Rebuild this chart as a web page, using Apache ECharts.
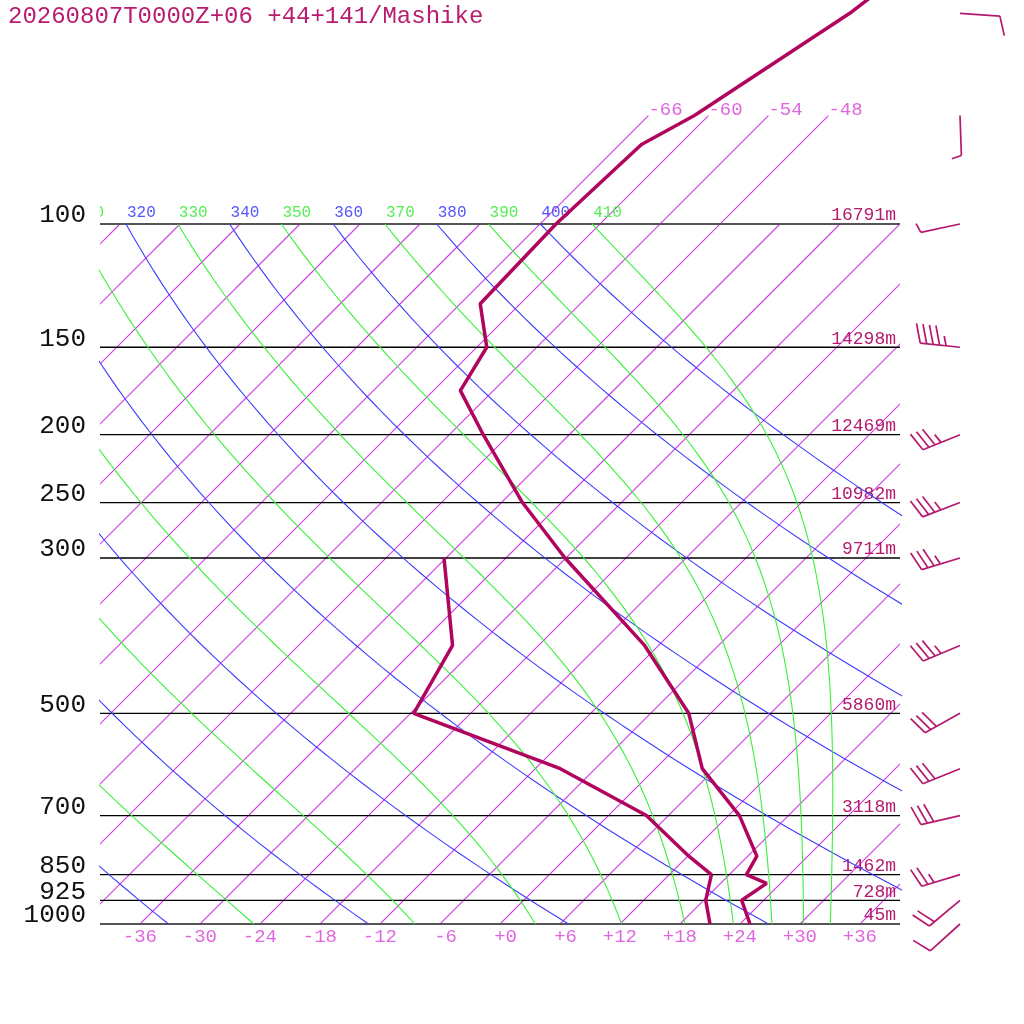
<!DOCTYPE html>
<html>
<head>
<meta charset="utf-8">
<script src="https://cdn.jsdelivr.net/npm/echarts@6/dist/echarts.min.js"></script>
<style>
  html, body { margin: 0; padding: 0; background: #fff; }
  #main { width: 1024px; height: 1024px; }
</style>
</head>
<body>
<div id="main"></div>
<script>
// sounding data
var titleText = '20260807T0000Z+06 +44+141/Mashike';

var levels = [100, 150, 200, 250, 300, 500, 700, 850, 925, 1000];
var heights = ['16791m', '14298m', '12469m', '10982m', '9711m', '5860m', '3118m', '1462m', '728m', '45m'];

var tempP = [1000, 925, 875, 850, 800, 700, 600, 500, 400, 300, 250, 200, 173, 150, 130, 100, 77, 70, 50, 40];
var tempT = [25.0, 21.8, 22.6, 19.7, 18.9, 13.1, 4.7, -2.2, -13.4, -30.1, -39.9, -50.6, -57.3, -59.0, -64.0, -64.4, -63.8, -61.4, -56.1, -54.0];

var dewP = [1000, 925, 850, 800, 700, 600, 500, 400, 300];
var dewT = [21.0, 18.2, 16.2, 12.1, 3.8, -9.5, -29.7, -32.6, -42.2];

var windP = [1000, 925, 850, 700, 600, 500, 400, 300, 250, 200, 150, 100, 70, 50];
var windDir = [228, 230, 253, 257, 248, 241, 247, 253, 249, 248, 276, 258, 178, 94];
var windKt = [10, 20, 25, 30, 30, 30, 35, 35, 35, 35, 45, 5, 5, 10];

// background lines
var isotherms = [-108, -102, -96, -90, -84, -78, -72, -66, -60, -54, -48, -42, -36, -30, -24, -18, -12, -6, 0, 6, 12, 18, 24, 30, 36];
var isoHigh = [-66, -60, -54, -48];
var xTicks = [-36, -30, -24, -18, -12, -6, 0, 6, 12, 18, 24, 30, 36];
var dryTheta = [240, 260, 280, 300, 320, 340, 360, 380, 400];
var moistTheta = [250, 270, 290, 310, 330, 350, 370, 390, 410];

var FONT = '"Liberation Mono", "DejaVu Sans Mono", monospace';
var KAPPA = 0.2857;
var PTOP = 1000 / Math.pow(10, 924 / 700);
var PINK = '#d23ce6';

function skewX(t, p) { return t + 70 * Math.log10(1000 / p); }

var pGrid = [];
for (var i = 0; i <= 60; i++) pGrid.push(1000 * Math.pow(10, -i / 60));

function dryLine(th) {
  return pGrid.map(function (p) {
    return [skewX(th * Math.pow(p / 1000, KAPPA) - 273.15, p), p];
  });
}

function moistRate(T, p) {
  var es = 6.112 * Math.exp(17.67 * (T - 273.15) / (T - 29.65));
  var rs = 0.622 * es / (p - es);
  var Rd = 287.04, cp = 1005.7, Lv = 2.501e6;
  return (Rd * T + Lv * rs) / (cp + Lv * Lv * rs * 0.622 / (Rd * T * T));
}

function moistLine(th) {
  var n = 90, lp = Math.log(100), h = (Math.log(1000) - lp) / n;
  var T = th * Math.pow(0.1, KAPPA);
  var out = [[skewX(T - 273.15, 100), 100]];
  var f = function (t, l) { return moistRate(t, Math.exp(l)); };
  for (var k = 0; k < n; k++) {
    var k1 = f(T, lp), k2 = f(T + h * k1 / 2, lp + h / 2);
    var k3 = f(T + h * k2 / 2, lp + h / 2), k4 = f(T + h * k3, lp + h);
    T += h * (k1 + 2 * k2 + 2 * k3 + k4) / 6;
    lp += h;
    var p = Math.exp(lp);
    out.push([skewX(T - 273.15, p), p]);
  }
  return out;
}

function lineSeries(data, color, width) {
  return {
    type: 'line', data: data, symbol: 'none', silent: true, clip: true,
    animation: false, lineStyle: { color: color, width: width },
    itemStyle: { color: color }
  };
}

var series = [];

// isotherms
series.push({
  type: 'custom', silent: true, clip: true, animation: false,
  data: isotherms.map(function (t) { return [t, 1000, isoHigh.indexOf(t) >= 0 ? 70 : 100]; }),
  renderItem: function (params, api) {
    var t = api.value(0), top = api.value(2);
    var a = api.coord([skewX(t, 1000), 1000]);
    var b = api.coord([skewX(t, top), top]);
    return { type: 'line', shape: { x1: a[0], y1: a[1], x2: b[0], y2: b[1] },
      style: { stroke: PINK, lineWidth: 1.1 } };
  }
});
dryTheta.forEach(function (th) { series.push(lineSeries(dryLine(th), '#3c3cff', 1.1)); });
moistTheta.forEach(function (th) { series.push(lineSeries(moistLine(th), '#38f038', 1.1)); });

// pressure lines with heights
series.push({
  type: 'custom', silent: true, clip: false, animation: false,
  data: levels.map(function (p) { return [-40, p]; }),
  renderItem: function (params, api) {
    var p = api.value(1);
    var a = api.coord([-40, p]), b = api.coord([40, p]);
    var edge = (p === 100 || p === 1000);
    return {
      type: 'group', children: [
        { type: 'line', shape: { x1: a[0], y1: a[1], x2: b[0], y2: b[1] },
          style: { stroke: edge ? '#555' : '#000', lineWidth: edge ? 2 : 1.3 } },
        { type: 'text', x: a[0] - 14, y: a[1] - 8.5,
          style: { text: String(p), fill: '#111', fontSize: 26, fontFamily: FONT, align: 'right', verticalAlign: 'middle' } },
        { type: 'text', x: b[0] - 4, y: b[1] - 8.5,
          style: { text: heights[params.dataIndex], fill: '#b4196e', fontSize: 18, fontFamily: FONT, align: 'right', verticalAlign: 'middle' } }
      ]
    };
  }
});

// theta labels at 100 hPa and isotherm labels (clipped to the plot)
var thetaLabels = dryTheta.concat(moistTheta).sort(function (a, b) { return a - b; });
series.push({
  type: 'custom', silent: true, clip: true, animation: false,
  data: thetaLabels.map(function (th) { return [skewX(th * Math.pow(0.1, KAPPA) - 273.15, 100), 100, th]; }),
  renderItem: function (params, api) {
    var c = api.coord([api.value(0), 100]);
    var th = api.value(2);
    var dry = dryTheta.indexOf(th) >= 0;
    return { type: 'text', x: c[0] + 1, y: c[1] - 11.5,
      style: { text: String(th), fill: dry ? '#5555ff' : '#55ee55', fontSize: 16, fontFamily: FONT, align: 'left', verticalAlign: 'middle' } };
  }
});
series.push({
  type: 'custom', silent: true, clip: true, animation: false,
  data: isoHigh.map(function (t) { return [skewX(t, 70), 70, t]; }),
  renderItem: function (params, api) {
    var c = api.coord([api.value(0), 70]);
    return { type: 'text', x: c[0], y: c[1] - 6,
      style: { text: String(api.value(2)), fill: '#e066e0', fontSize: 19, fontFamily: FONT, align: 'left', verticalAlign: 'middle' } };
  }
});

// x tick labels
series.push({
  type: 'custom', silent: true, clip: false, animation: false,
  data: xTicks.map(function (t) { return [t, 1000]; }),
  renderItem: function (params, api) {
    var t = api.value(0);
    var c = api.coord([t, 1000]);
    return { type: 'text', x: c[0] + 17, y: c[1] + 12.5,
      style: { text: (t >= 0 ? '+' : '') + t, fill: '#e066e0', fontSize: 19, fontFamily: FONT, align: 'right', verticalAlign: 'middle' } };
  }
});

// temperature and dew point
series.push({
  type: 'line', name: 'T', symbol: 'none', clip: true, animation: false, z: 5,
  data: tempP.map(function (p, i) { return [skewX(tempT[i], p), p]; }),
  lineStyle: { color: '#b0045e', width: 3.5 }
});
series.push({
  type: 'line', name: 'Td', symbol: 'none', clip: true, animation: false, z: 5,
  data: dewP.map(function (p, i) { return [skewX(dewT[i], p), p]; }),
  lineStyle: { color: '#b0045e', width: 3.5 }
});

// wind barbs
series.push({
  type: 'custom', silent: true, clip: false, animation: false,
  data: windP.map(function (p, i) { return [46, p, windDir[i], windKt[i]]; }),
  renderItem: function (params, api) {
    var y = api.coord([0, api.value(1)])[1];
    var x = 960;
    var d = api.value(2) * Math.PI / 180, spd = api.value(3);
    var ux = Math.sin(d), uy = -Math.cos(d);
    var fx = -uy + 0.3 * ux, fy = ux + 0.3 * uy;
    var fl = Math.sqrt(fx * fx + fy * fy); fx /= fl; fy /= fl;
    var tx = x + 40 * ux, ty = y + 40 * uy;
    var st = { stroke: '#b4196e', lineWidth: 1.7 };
    var kids = [{ type: 'line', shape: { x1: x, y1: y, x2: tx, y2: ty }, style: st }];
    var full = Math.floor(spd / 10), half = (spd % 10) >= 5;
    var n = full + (half ? 1 : 0);
    for (var k = 0; k < n; k++) {
      var bx = tx - k * 6.5 * ux, by = ty - k * 6.5 * uy;
      var len = k < full ? 20 : 10;
      kids.push({ type: 'line', shape: { x1: bx, y1: by, x2: bx + len * fx, y2: by + len * fy }, style: st });
    }
    return { type: 'group', children: kids };
  }
});

var myChart = echarts.init(document.getElementById('main'));
var option = {
  animation: false,
  backgroundColor: '#fff',
  title: {
    text: titleText, left: 8, top: 5, padding: 0,
    textStyle: { color: '#b81c70', fontFamily: FONT, fontSize: 24, fontWeight: 'normal' }
  },
  grid: { left: 100, right: 124, top: 0, bottom: 100 },
  xAxis: { type: 'value', min: -40, max: 40, show: false },
  yAxis: { type: 'log', logBase: 10, min: PTOP, max: 1000, inverse: true, show: false },
  series: series
};
myChart.setOption(option);
</script>
</body>
</html>
